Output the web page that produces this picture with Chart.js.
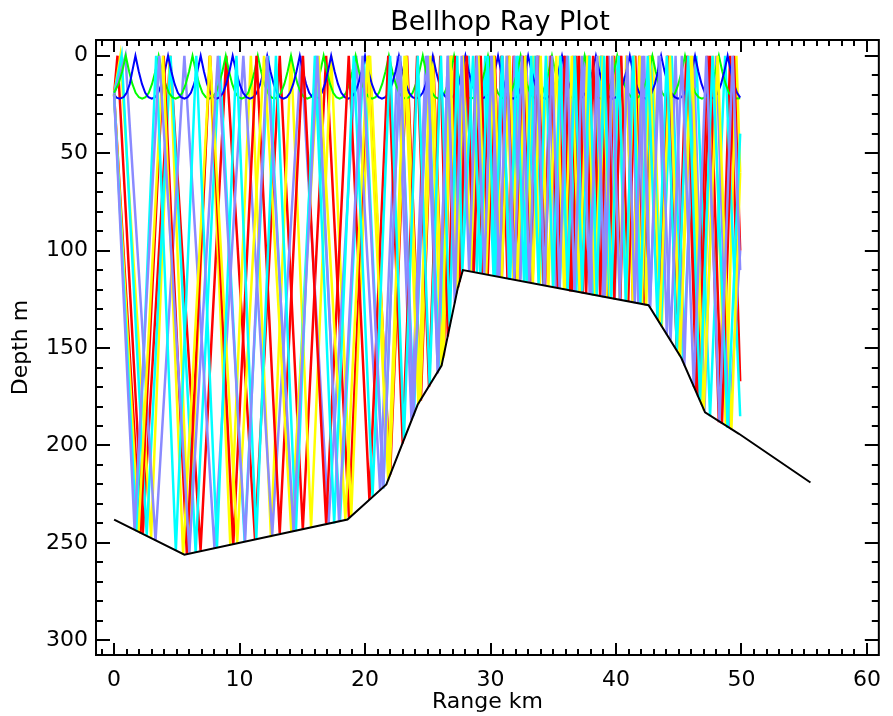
<!DOCTYPE html>
<html>
<head>
<meta charset="utf-8">
<title>Bellhop Ray Plot</title>
<script src="https://cdn.jsdelivr.net/npm/chart.js@4.4.1/dist/chart.umd.min.js"></script>
<style>
  html, body { margin: 0; padding: 0; background: #fff; }
  #wrap { width: 893px; height: 716px; position: relative; }
</style>
</head>
<body>
<div id="wrap"><canvas id="rayChart"></canvas></div>
<script>
// axis ticks
const rangeTicks = [0, 10, 20, 30, 40, 50, 60];
const depthTicks = [0, 50, 100, 150, 200, 250, 300];

// bottom profile [range km, depth m]
const bathymetry = [[0, 238], [5.6, 256], [18.6, 238], [21.7, 220], [24.2, 179], [26.1, 159], [27.4, 119], [27.8, 110],
  [42.6, 128], [45.2, 155], [47.1, 183], [49.8, 194], [55.5, 219]];

// surface duct rays: ranges where they touch the surface
const greenPeaks = [0.93, 3.55, 6.25, 8.9, 11.45, 14.1, 16.7, 19.25, 21.9, 24.6, 27.1, 29.8, 32.4, 34.9, 37.5, 40.1, 42.9, 45.5, 48.2];
const bluePeaks = [1.7, 4.3, 6.9, 9.45, 12.2, 14.8, 17.3, 20.0, 22.7, 25.4, 28.0, 30.6, 33.0, 35.7, 38.4, 41.1, 43.6, 46.3, 48.9];
// one arch of the duct between two surface hits [fraction of arch, depth m]
const ductArc = [[0, 0], [0.1, 8], [0.2, 14.5], [0.3, 19], [0.4, 21.3], [0.5, 22], [0.6, 21.3], [0.7, 19], [0.8, 14.5], [0.9, 8], [1, 0]];
const greenStart = [[0, 19], [0.35, 14.5], [0.65, 8]];
const greenEnd = [[48.47, 8], [48.74, 14.5], [49.0, 19], [49.27, 21.3], [49.55, 22], [49.9, 21.8]];
const blueStart = [[0, 20], [0.2, 21.5], [0.45, 22], [0.75, 21.3], [1.0, 19], [1.25, 14.5], [1.45, 8]];
const blueEnd = [[49.15, 8], [49.4, 14.5], [49.65, 19], [49.9, 21.5]];

// bottom bouncing rays, turning points [range km, depth m]
const rayRedUp = [[0, 20], [0.27, 0], [2.29, 245], [4.47, 0], [6.89, 254], [8.94, 0], [11.23, 248], [13.2, 0], [15.04, 243], [16.9, 0],
  [18.72, 237], [20.3, 0], [22.0, 215], [23.35, 0], [24.45, 177], [25.43, 0], [26.28, 154], [26.92, 0], [27.42, 119], [27.85, 0],
  [28.35, 111], [28.85, 0], [29.35, 112], [29.85, 0], [30.35, 113], [30.85, 0], [31.35, 114], [31.85, 0], [32.35, 115], [32.85, 0],
  [33.35, 117], [33.85, 0], [34.35, 118], [34.85, 0], [35.35, 119], [35.85, 0], [36.35, 121], [36.85, 0], [37.35, 122], [37.85, 0],
  [38.35, 123], [38.85, 0], [39.35, 124], [39.85, 0], [40.35, 125], [40.85, 0], [41.35, 126], [41.85, 0], [42.35, 128], [42.85, 0],
  [43.5, 137], [44.15, 0], [44.85, 151], [45.6, 0], [46.4, 172], [47.3, 0], [48.2, 188], [49.1, 0], [49.9, 167]];
const rayYellowUp = [[0, 20], [0.5, 0], [2.95, 247], [4.45, 0], [5.97, 255], [7.6, 0], [9.26, 251], [10.9, 0], [12.5, 247], [14.1, 0],
  [15.7, 242], [17.3, 0], [18.9, 236], [20.4, 0], [21.95, 216], [23.3, 0], [24.4, 177], [25.4, 0], [26.25, 155], [26.9, 0],
  [27.45, 118], [28.1, 0], [28.63, 111], [29.16, 0], [29.69, 112], [30.22, 0], [30.75, 113], [31.28, 0], [31.81, 115], [32.34, 0],
  [32.87, 116], [33.4, 0], [33.93, 117], [34.46, 0], [34.99, 119], [35.52, 0], [36.05, 120], [36.58, 0], [37.11, 121], [37.64, 0],
  [38.17, 123], [38.7, 0], [39.23, 124], [39.76, 0], [40.29, 125], [40.82, 0], [41.35, 126], [41.88, 0], [42.41, 128], [42.94, 0],
  [43.65, 139], [44.35, 0], [45.1, 154], [45.95, 0], [46.8, 179], [47.75, 0], [48.75, 190], [49.6, 0], [49.9, 60]];
const rayCyanUp = [[0, 20], [0.6, 0], [2.6, 246], [4.5, 0], [6.5, 255], [8.4, 0], [10.4, 249], [12.3, 0], [14.2, 244], [16.1, 0],
  [18.0, 239], [19.9, 0], [21.45, 222], [22.8, 0], [23.9, 184], [25.0, 0], [25.9, 161], [26.75, 0], [27.6, 114],
  [28.26, 0], [28.92, 111], [29.58, 0], [30.24, 113], [30.9, 0], [31.56, 115], [32.22, 0], [32.88, 116], [33.54, 0], [34.2, 118],
  [34.86, 0], [35.52, 119], [36.18, 0], [36.84, 121], [37.5, 0], [38.16, 123], [38.82, 0], [39.48, 124], [40.14, 0], [40.8, 126],
  [41.46, 0], [42.12, 127], [42.78, 0], [43.6, 138], [44.45, 0], [45.35, 157], [46.4, 0], [47.5, 185], [48.7, 0], [49.9, 185]];
const rayPeriUp = [[0, 20], [0.9, 0], [3.3, 249], [5.6, 0], [8.0, 253], [10.3, 0], [12.6, 246], [14.9, 0], [17.1, 240], [19.3, 0],
  [21.2, 223], [22.6, 0], [23.7, 187], [24.85, 0], [25.8, 162], [26.6, 0], [27.3, 122], [28.15, 0],
  [28.62, 111], [29.09, 0], [29.56, 112], [30.03, 0], [30.5, 113], [30.97, 0], [31.44, 114], [31.91, 0],
  [32.38, 115], [32.85, 0], [33.32, 117], [33.79, 0], [34.26, 118], [34.73, 0], [35.2, 119], [35.67, 0], [36.14, 120], [36.61, 0],
  [37.08, 121], [37.55, 0], [38.02, 122], [38.49, 0], [38.96, 124], [39.43, 0], [39.9, 125], [40.37, 0], [40.84, 126], [41.31, 0],
  [41.78, 127], [42.25, 0], [42.72, 129], [43.4, 0], [44.05, 143], [44.75, 0], [45.45, 159], [46.2, 0], [47.05, 182], [48.0, 0],
  [49.0, 191], [49.9, 100]];
const rayRedDown = [[0, 20], [2.1, 245], [3.95, 0], [5.8, 256], [7.65, 0], [9.5, 251], [11.35, 0], [13.2, 245], [15.05, 0], [16.9, 240],
  [18.7, 0], [20.35, 228], [21.85, 0], [23.0, 199], [24.15, 0], [25.1, 170], [26.0, 0], [26.6, 144], [27.2, 0], [27.55, 116],
  [28.1, 0], [28.66, 111], [29.22, 0], [29.78, 112], [30.34, 0], [30.9, 114], [31.46, 0], [32.02, 115], [32.58, 0], [33.14, 116],
  [33.7, 0], [34.26, 118], [34.82, 0], [35.38, 119], [35.94, 0], [36.5, 121], [37.06, 0], [37.62, 122], [38.18, 0], [38.74, 123],
  [39.3, 0], [39.86, 125], [40.42, 0], [40.98, 126], [41.54, 0], [42.1, 127], [42.66, 0], [43.4, 136], [44.1, 0], [44.85, 151],
  [45.7, 0], [46.55, 175], [47.5, 0], [48.45, 189], [49.4, 0], [49.9, 100]];
const rayYellowDown = [[0, 20], [1.95, 244], [3.9, 0], [5.5, 256], [7.65, 0], [9.81, 250], [11.95, 0], [14.12, 244], [16.3, 0],
  [18.43, 238], [20.2, 0], [21.85, 218], [23.15, 0], [24.25, 179], [25.2, 0], [26.1, 159], [26.8, 0], [27.35, 120], [27.8, 0],
  [28.42, 111], [29.04, 0], [29.66, 112], [30.28, 0], [30.9, 114], [31.52, 0], [32.14, 115], [32.76, 0], [33.38, 117], [34.0, 0],
  [34.62, 118], [35.24, 0], [35.86, 120], [36.48, 0], [37.1, 121], [37.72, 0], [38.34, 123], [38.96, 0], [39.58, 124], [40.2, 0],
  [40.82, 126], [41.44, 0], [42.06, 127], [42.68, 0], [43.5, 137], [44.3, 0], [45.1, 154], [46.05, 0], [47.0, 182], [48.1, 0],
  [49.2, 192], [49.9, 60]];
const rayCyanDown = [[0, 20], [1.77, 244], [3.35, 0], [4.92, 254], [6.55, 0], [8.2, 252], [9.75, 0], [11.33, 248], [12.9, 0],
  [14.49, 244], [16.0, 0], [17.54, 240], [19.1, 0], [20.6, 226], [22.0, 0], [23.1, 197], [24.2, 0], [25.15, 169], [26.05, 0],
  [26.75, 139], [27.35, 0], [27.75, 111], [28.61, 0], [29.19, 112], [29.77, 0], [30.35, 113], [30.93, 0], [31.51, 115], [32.09, 0],
  [32.67, 116], [33.25, 0], [33.83, 117], [34.41, 0], [34.99, 119], [35.57, 0], [36.15, 120], [36.73, 0], [37.31, 121], [37.89, 0],
  [38.47, 123], [39.05, 0], [39.63, 124], [40.21, 0], [40.79, 126], [41.37, 0], [41.95, 127], [42.53, 0], [43.3, 135], [44.05, 0],
  [44.85, 151], [45.75, 0], [46.7, 177], [47.7, 0], [48.9, 191], [49.9, 40]];
const rayPeriDown = [[0, 20], [1.63, 243], [3.6, 0], [6.0, 255], [8.27, 0], [10.44, 249], [12.2, 0], [14.3, 244], [16.2, 0], [17.93, 239],
  [19.8, 0], [21.45, 222], [22.8, 0], [23.85, 185], [25.0, 0], [25.8, 163], [26.6, 0], [27.15, 127], [27.7, 0],
  [28.3, 111], [28.9, 0], [29.5, 112], [30.1, 0], [30.7, 113], [31.3, 0], [31.9, 115], [32.5, 0], [33.1, 116], [33.7, 0],
  [34.3, 118], [34.9, 0], [35.5, 119], [36.1, 0], [36.7, 121], [37.3, 0], [37.9, 122], [38.5, 0], [39.1, 124], [39.7, 0],
  [40.3, 125], [40.9, 0], [41.5, 127], [42.1, 0], [42.7, 129], [43.5, 0], [44.35, 146], [45.25, 0], [46.2, 170], [47.2, 0],
  [48.25, 188], [49.3, 0], [49.9, 110]];

const RED = '#ff0000', YELLOW = '#ffff00', CYAN = '#00ffff', PERI = '#8a8aff', GREEN = '#00ff00', BLUE = '#0000ff';
const RAY_W = 2.5;

function toXY(list) {
  return list.map(p => ({ x: p[0], y: p[1] }));
}

// duct ray: arches between surface hits
function ductPath(start, peaks, end) {
  let pts = toXY(start);
  for (let i = 0; i < peaks.length - 1; i++) {
    let a = peaks[i];
    let w = peaks[i + 1] - a;
    for (let j = 0; j < ductArc.length - 1; j++) {
      pts.push({ x: a + ductArc[j][0] * w, y: ductArc[j][1] });
    }
  }
  pts.push({ x: peaks[peaks.length - 1], y: 0 });
  return pts.concat(toXY(end));
}

function line(data, color, width) {
  return {
    data: data,
    showLine: true,
    borderColor: color,
    backgroundColor: color,
    borderWidth: width,
    pointRadius: 0,
    fill: false,
    tension: 0
  };
}

// bottom to top
let layers = [
  line(toXY(rayRedUp), RED, RAY_W),
  line(toXY(rayYellowUp), YELLOW, RAY_W),
  line(toXY(rayCyanUp), CYAN, RAY_W),
  line(toXY(rayPeriUp), PERI, RAY_W),
  line(ductPath(greenStart, greenPeaks, greenEnd), GREEN, 2),
  line(ductPath(blueStart, bluePeaks, blueEnd), BLUE, 2),
  line(toXY(rayRedDown), RED, RAY_W),
  line(toXY(rayYellowDown), YELLOW, RAY_W),
  line(toXY(rayCyanDown), CYAN, RAY_W),
  line(toXY(rayPeriDown), PERI, RAY_W),
  line(toXY(bathymetry), '#000000', 2)
];
// chart.js paints the first dataset last
let datasets = layers.slice().reverse();

const FONT = 'DejaVu Sans';

// IDL style frame: box, inward ticks on all sides, title
const framePlugin = {
  id: 'idlFrame',
  afterDraw(chart) {
    let ctx = chart.ctx;
    let a = chart.chartArea;
    let xs = chart.scales.x;
    let ys = chart.scales.y;
    ctx.save();
    ctx.strokeStyle = '#000';
    ctx.lineWidth = 2;
    ctx.strokeRect(a.left, a.top, a.right - a.left, a.bottom - a.top);
    ctx.beginPath();
    for (let v = Math.ceil(xs.min); v <= xs.max; v++) {
      let px = Math.round(xs.getPixelForValue(v));
      let len = v % 10 === 0 ? 12 : 6;
      ctx.moveTo(px, a.bottom); ctx.lineTo(px, a.bottom - len);
      ctx.moveTo(px, a.top); ctx.lineTo(px, a.top + len);
    }
    for (let v = 0; v <= ys.max; v += 10) {
      let py = Math.round(ys.getPixelForValue(v));
      let len = v % 50 === 0 ? 14 : 7;
      ctx.moveTo(a.left, py); ctx.lineTo(a.left + len, py);
      ctx.moveTo(a.right, py); ctx.lineTo(a.right - len, py);
    }
    ctx.stroke();
    ctx.fillStyle = '#000';
    ctx.font = '27px "' + FONT + '"';
    ctx.textAlign = 'center';
    ctx.textBaseline = 'alphabetic';
    ctx.fillText('Bellhop Ray Plot', 500, 30);
    ctx.restore();
  }
};

new Chart(document.getElementById('rayChart'), {
  type: 'scatter',
  data: { datasets: datasets },
  options: {
    animation: false,
    responsive: true,
    maintainAspectRatio: false,
    devicePixelRatio: 1,
    layout: { padding: { top: 40, right: 6, left: 0, bottom: 0 } },
    plugins: {
      legend: { display: false },
      tooltip: { enabled: false },
      title: { display: false }
    },
    scales: {
      x: {
        type: 'linear',
        min: -1.443,
        max: 60.95,
        grid: { display: false, drawTicks: false },
        border: { display: false },
        afterBuildTicks: s => { s.ticks = rangeTicks.map(v => ({ value: v })); },
        afterFit: s => { s.height = 61; },
        ticks: { color: '#000', font: { family: FONT, size: 22 }, padding: 12, maxRotation: 0, autoSkip: false },
        title: { display: true, text: 'Range km', color: '#000', font: { family: FONT, size: 22 }, padding: { top: 0, bottom: 1 } }
      },
      y: {
        type: 'linear',
        reverse: true,
        min: -8.06,
        max: 307.5,
        grid: { display: false, drawTicks: false },
        border: { display: false },
        afterBuildTicks: s => { s.ticks = depthTicks.map(v => ({ value: v })); },
        afterFit: s => { s.width = 96; },
        ticks: { color: '#000', font: { family: FONT, size: 22 }, padding: 8, autoSkip: false },
        title: { display: true, text: 'Depth m', color: '#000', font: { family: FONT, size: 22 }, padding: { top: 8, bottom: 0 } }
      }
    }
  },
  plugins: [framePlugin]
});
</script>
</body>
</html>
